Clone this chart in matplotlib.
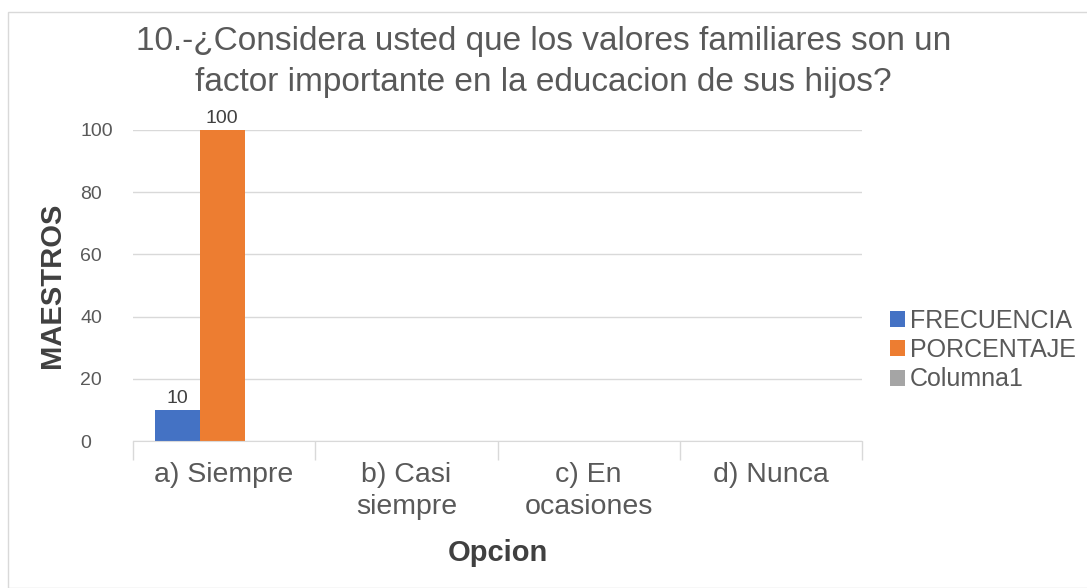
import matplotlib
matplotlib.use("Agg")
import matplotlib.pyplot as plt
import numpy as np
from matplotlib.patches import Rectangle

plt.rcParams['font.family'] = ['Liberation Sans', 'DejaVu Sans']

categories = ["a) Siempre", "b) Casi\nsiempre", "c) En\nocasiones", "d) Nunca"]
frecuencia = [10, np.nan, np.nan, np.nan]
porcentaje = [100, np.nan, np.nan, np.nan]
columna1 = [np.nan, np.nan, np.nan, np.nan]
series_names = ["FRECUENCIA", "PORCENTAJE", "Columna1"]
colors = ["#4472C4", "#ED7D31", "#A5A5A5"]
yticks = [0, 20, 40, 60, 80, 100]

fig = plt.figure(figsize=(10.87, 5.88), dpi=100)
fig.patches.append(Rectangle((8/1087, 0), 1.2, 1 - 12/588, transform=fig.transFigure,
                             fill=False, edgecolor="#D9D9D9", linewidth=1))
ax = fig.add_axes([133/1087, 1 - 441/588, (862-133)/1087, (441-130)/588])

x = np.arange(len(categories))
w = 0.247
all_series = [frecuencia, porcentaje, columna1]
for i, (vals, name, c) in enumerate(zip(all_series, series_names, colors)):
    pos = x + (i - 1) * w - 0.01
    ax.bar(pos, vals, width=w, color=c, label=name)
    for p, v in zip(pos, vals):
        if not np.isnan(v):
            ax.text(p, v + 1.0, f"{v:g}", ha="center", va="bottom", fontsize=14, color="#404040")

ax.set_xlim(-0.5, 3.5)
ax.set_ylim(0, 100)
ax.set_yticks(yticks)
ax.yaxis.grid(True, color="#D9D9D9", linewidth=1)
ax.set_axisbelow(True)
for s in ["top", "right", "left"]:
    ax.spines[s].set_visible(False)
ax.spines["bottom"].set_color("#D9D9D9")
ax.tick_params(axis="y", length=0, labelsize=14, labelcolor="#595959", pad=38)
for lab in ax.get_yticklabels():
    lab.set_horizontalalignment("left")
ax.set_xticks(x)
ax.set_xticklabels(categories, fontsize=20.5, color="#595959", linespacing=1.3)
ax.set_xticks(np.arange(-0.5, 4, 1), minor=True)
ax.tick_params(axis="x", which="major", length=0, pad=15)
ax.tick_params(axis="x", which="minor", length=14, color="#D9D9D9", width=1)

ax.set_ylabel("MAESTROS", fontsize=21, fontweight="bold", color="#404040")
ax.yaxis.set_label_coords((52 - 133) / (862 - 133), 0.5)
ax.set_xlabel("Opcion", fontsize=21, fontweight="bold", color="#404040")
ax.xaxis.set_label_coords(0.5, -(553 - 441) / (441 - 130))
ax.xaxis.label.set_va("center")
ax.yaxis.label.set_va("center")

fig.text(0.5, 1 - 62/588, "10.-¿Considera usted que los valores familiares son un\nfactor importante en la educacion de sus hijos?",
         ha="center", va="center", fontsize=24, color="#595959",
         linespacing=1.45)

leg = fig.legend(loc="center left", bbox_to_anchor=(890/1087, 1 - 350/588), frameon=False,
                 fontsize=18, handlelength=0.6, handleheight=0.6, handletextpad=0.2,
                 labelspacing=0.22, borderaxespad=0, borderpad=0)
for t in leg.get_texts():
    t.set_color("#595959")

fig.savefig("out.png", dpi=100)
